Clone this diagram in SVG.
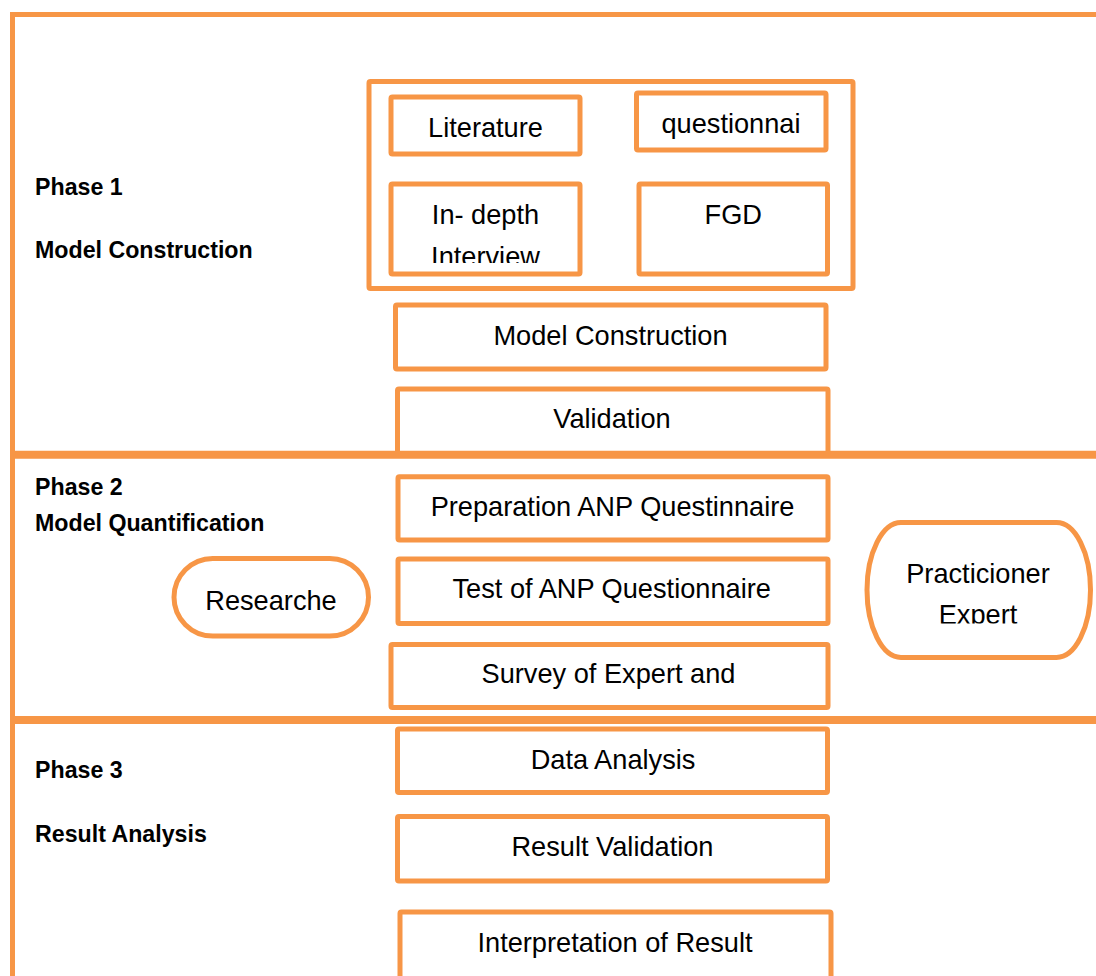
<svg xmlns="http://www.w3.org/2000/svg" width="1096" height="976" viewBox="0 0 1096 976">
<style>
.box{fill:#ffffff;stroke:#F79646;stroke-width:5;stroke-linejoin:round}
.frame{fill:none;stroke:#F79646;stroke-width:5}
.sep{fill:none;stroke:#F79646;stroke-width:8}
.t{font-family:"Liberation Sans",Arial,sans-serif;font-size:27.2px;fill:#000;text-anchor:middle}
.b{font-family:"Liberation Sans",Arial,sans-serif;font-size:23.2px;font-weight:bold;fill:#000}
</style>
<defs>
<clipPath id="clipIndepth"><rect x="391" y="184" width="189" height="79"/></clipPath>
<clipPath id="clipExpert"><rect x="867" y="522" width="224" height="101.5"/></clipPath>
</defs>
<rect x="0" y="0" width="1096" height="976" fill="#ffffff"/>
<g id="frame">
<path class="frame" d="M12.5,976 V14.5 H1096"/>
<text class="b" x="35" y="195">Phase 1</text>
<text class="b" x="35" y="258.3">Model Construction</text>
<text class="b" x="35" y="495">Phase 2</text>
<text class="b" x="35" y="530.7">Model Quantification</text>
<text class="b" x="35" y="777.7">Phase 3</text>
<text class="b" x="35" y="841.7">Result Analysis</text>
</g>
<g id="sources-group">
<rect class="box" x="369" y="81.5" width="484" height="207" rx="1.5"/>
</g>
<g id="literature">
<rect class="box" x="391" y="97" width="189" height="57" rx="1.5"/>
<text class="t" x="485.5" y="136.7">Literature</text>
</g>
<g id="questionnaire">
<rect class="box" x="636.5" y="93" width="189.5" height="57" rx="1.5"/>
<text class="t" x="731" y="132.7">questionnai</text>
</g>
<g id="indepth">
<rect class="box" x="391" y="184" width="189" height="90" rx="1.5"/>
<g clip-path="url(#clipIndepth)">
<text class="t" x="485.5" y="224.3">In- depth</text>
<text class="t" x="485.5" y="265.5">Interview</text>
</g>
</g>
<g id="fgd">
<rect class="box" x="639" y="184" width="188.5" height="90" rx="1.5"/>
<text class="t" x="733.3" y="224.3">FGD</text>
</g>
<g id="model-construction">
<rect class="box" x="395.5" y="305" width="430.5" height="64" rx="1.5"/>
<text class="t" x="610.5" y="345">Model Construction</text>
</g>
<g id="validation">
<rect class="box" x="397.5" y="389" width="430.5" height="66" rx="1.5"/>
<text class="t" x="612" y="428.3">Validation</text>
</g>
<g id="preparation">
<rect class="box" x="398" y="476.7" width="430" height="63.3" rx="1.5"/>
<text class="t" x="612.5" y="516">Preparation ANP Questinnaire</text>
</g>
<g id="test">
<rect class="box" x="398" y="559" width="430" height="64.5" rx="1.5"/>
<text class="t" x="611.7" y="597.7">Test of ANP Questionnaire</text>
</g>
<g id="survey">
<rect class="box" x="391" y="644.5" width="437" height="63" rx="1.5"/>
<text class="t" x="608.5" y="682.7">Survey of Expert and</text>
</g>
<g id="researcher">
<rect class="box" x="174" y="558.5" width="194.5" height="77.5" rx="38.75" ry="38.75"/>
<text class="t" x="271" y="610">Researche</text>
</g>
<g id="practitioner">
<rect class="box" x="867" y="522.5" width="223.5" height="135" rx="34" ry="67.5"/>
<text class="t" x="978" y="583.3">Practicioner</text>
<g clip-path="url(#clipExpert)">
<text class="t" x="978" y="624">Expert</text>
</g>
</g>
<g id="data-analysis">
<rect class="box" x="397.5" y="729" width="430" height="63.5" rx="1.5"/>
<text class="t" x="613" y="769.3">Data Analysis</text>
</g>
<g id="result-validation">
<rect class="box" x="397.5" y="816.5" width="430" height="64.5" rx="1.5"/>
<text class="t" x="612.5" y="856">Result Validation</text>
</g>
<g id="interpretation">
<rect class="box" x="400" y="912" width="431" height="80" rx="1.5"/>
<text class="t" x="615" y="951.7">Interpretation of Result</text>
</g>
<g id="separators">
<path class="sep" d="M10,454.7 H1096"/>
<path class="sep" d="M10,720 H1096"/>
</g>
<g id="connectors"></g>
</svg>
